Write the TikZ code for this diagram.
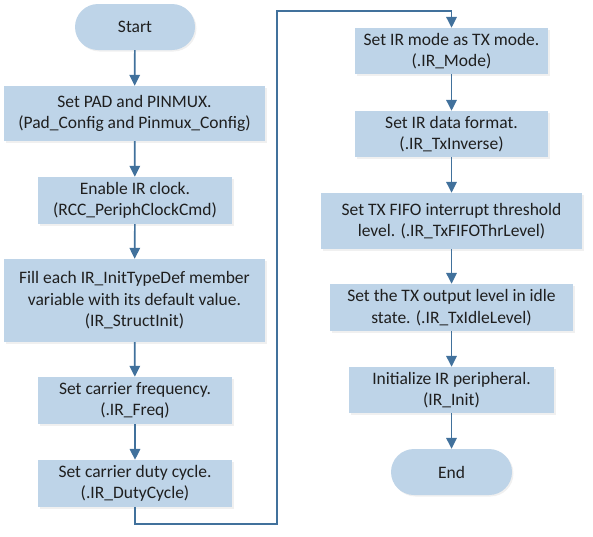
\documentclass[tikz,border=0pt]{standalone}
\usepackage{fontspec}
\setmainfont{Carlito}
\usetikzlibrary{arrows.meta,shadows}
\definecolor{riempimento}{RGB}{190,212,232}
\definecolor{linea}{RGB}{65,113,156}
\tikzset{
	blocco/.style={rectangle, fill=riempimento, text=black!88, align=center,
		inner sep=0pt, font=\fontsize{17.5}{21.4}\selectfont,
		drop shadow={opacity=0.12, shadow xshift=1.5pt, shadow yshift=-1.5pt}},
	terminale/.style={blocco, rounded corners=23pt},
	freccia/.style={color=linea, line width=1.7pt, -{Stealth[length=11pt,width=10.5pt,inset=0pt]}}
}
\begin{document}
\begin{tikzpicture}[x=1pt, y=-1pt]
		\useasboundingbox (0,0) rectangle (593,536);
		
		% colonna sinistra
		\node[terminale, minimum width=120pt, minimum height=46pt] (start) at (135,27) {Start};
		\node[blocco, minimum width=261pt, minimum height=55pt] (pad) at (134.5,113.5) {Set PAD and PINMUX.\\(Pad\_Config and Pinmux\_Config)};
		\node[blocco, minimum width=194pt, minimum height=47pt] (clock) at (135,200.5) {Enable IR clock.\\(RCC\_PeriphClockCmd)};
		\node[blocco, minimum width=261pt, minimum height=83pt] (fill) at (134.5,300.5) {Fill each IR\_InitTypeDef member\\variable with its default value.\\(IR\_StructInit)};
		\node[blocco, minimum width=194pt, minimum height=47pt] (freq) at (135,400.5) {Set carrier frequency.\\(.IR\_Freq)};
		\node[blocco, minimum width=194pt, minimum height=47pt] (duty) at (135,483.5) {Set carrier duty cycle.\\(.IR\_DutyCycle)};
		
		% colonna destra
		\node[blocco, minimum width=193pt, minimum height=46pt] (mode) at (451.5,51) {Set IR mode as TX mode.\\(.IR\_Mode)};
		\node[blocco, minimum width=193pt, minimum height=46pt] (format) at (451.5,134) {Set IR data format.\\(.IR\_TxInverse)};
		\node[blocco, minimum width=261pt, minimum height=56pt] (fifo) at (451.5,221) {Set TX FIFO interrupt threshold\\level. (.IR\_TxFIFOThrLevel)};
		\node[blocco, minimum width=243pt, minimum height=47pt] (idle) at (451.5,307.5) {Set the TX output level in idle\\state. (.IR\_TxIdleLevel)};
		\node[blocco, minimum width=205pt, minimum height=46pt] (init) at (451.5,390) {Initialize IR peripheral.\\(IR\_Init)};
		\node[terminale, minimum width=121pt, minimum height=46pt] (end) at (451.5,472) {End};
		
		% frecce
		\draw[freccia] (start) -- (pad);
		\draw[freccia] (pad) -- (clock);
		\draw[freccia] (clock) -- (fill);
		\draw[freccia] (fill) -- (freq);
		\draw[freccia] (freq) -- (duty);
		\draw[freccia] (mode) -- (format);
		\draw[freccia] (format) -- (fifo);
		\draw[freccia] (fifo) -- (idle);
		\draw[freccia] (idle) -- (init);
		\draw[freccia] (init) -- (end);
		
		% collegamento tra le colonne
		\coordinate (basso) at (277,524);
		\coordinate (alto) at (277,11);
		\draw[freccia] (duty.south) |- (basso) -- (alto) -| (mode.north);
		
	\end{tikzpicture}
\end{document}
